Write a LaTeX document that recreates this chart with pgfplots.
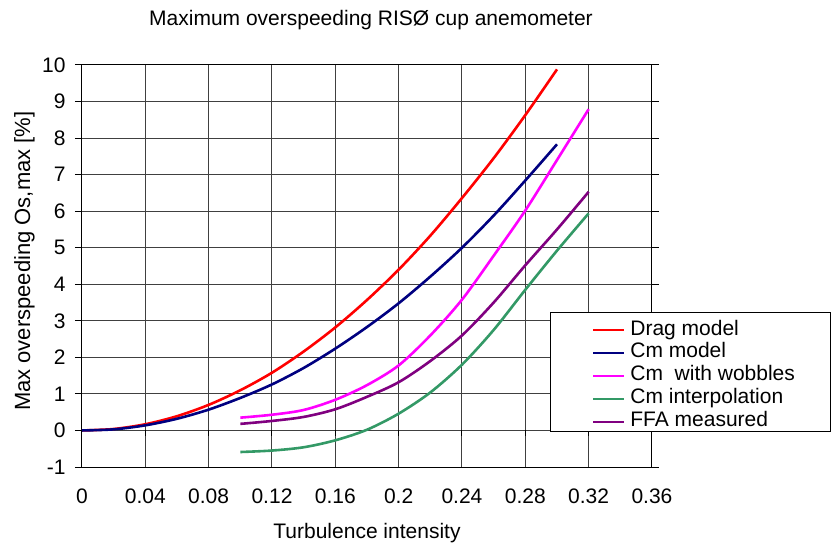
\documentclass[border=0pt]{standalone}
\usepackage{fontspec}
\setmainfont{Liberation Sans}
\usepackage{pgfplots}
\pgfplotsset{compat=1.18}

\definecolor{dragred}{RGB}{255,0,0}
\definecolor{cmnavy}{RGB}{0,0,128}
\definecolor{wobmag}{RGB}{255,0,255}
\definecolor{interpgreen}{RGB}{51,153,102}
\definecolor{ffapurple}{RGB}{128,0,128}

\begin{document}
\fontsize{10.5}{12.6}\selectfont
\begin{tikzpicture}
\begin{axis}[
  name=ax,
  scale only axis, width=285pt, height=201pt,
  xmin=0, xmax=0.36, ymin=-1, ymax=10,
  clip=false,
  xtick={0,0.04,0.08,0.12,0.16,0.2,0.24,0.28,0.32,0.36},
  xticklabels={0,0.04,0.08,0.12,0.16,0.2,0.24,0.28,0.32,0.36},
  ytick={-1,0,1,2,3,4,5,6,7,8,9,10},
  yticklabels={-1,0,1,2,3,4,5,6,7,8,9,10},
  grid=major,
  major grid style={black!75, line width=0.5pt},
  axis line style={black, line width=0.5pt},
  tick align=outside, major tick length=3.5pt,
  x tick style={draw=none},
  y tick style={black, line width=0.5pt},
  xticklabel style={yshift=-3.5pt},
  yticklabel style={xshift=-1pt},
  title={Maximum overspeeding RISØ cup anemometer},
  title style={at={(axis description cs:0.5,1)}, anchor=base, yshift=13.5pt, xshift=2pt},
  xlabel={Turbulence intensity},
  xlabel style={at={(axis description cs:0.5,0)}, anchor=north, yshift=-24.5pt},
  ylabel={Max overspeeding Os,max [\%]},
  ylabel style={at={(axis description cs:-0.0702,0.512)}, anchor=south,
    font=\fontsize{11}{13}\selectfont},
  every axis plot/.append style={line width=1.3pt, smooth},
  legend style={at={(axis description cs:0.8947,0.369)}, anchor=north west,
    draw=none, fill=none, inner sep=0pt, row sep=0pt, column sep=2.5pt,
    nodes={inner sep=0pt, text height=8pt, text depth=3.4pt, anchor=west}},
  legend cell align=left,
  legend image code/.code={\draw[#1, line width=1pt] (0pt,0pt) -- (15.5pt,0pt);},
]

% Drag model
\addplot[dragred] coordinates {
  (0,0) (0.02,0.04) (0.04,0.17) (0.06,0.39) (0.08,0.70) (0.10,1.10)
  (0.12,1.58) (0.14,2.16) (0.16,2.82) (0.18,3.57) (0.20,4.40) (0.22,5.33)
  (0.24,6.36) (0.26,7.45) (0.28,8.63) (0.30,9.88)};
\addlegendentry{Drag model}

% Cm model
\addplot[cmnavy] coordinates {
  (0,0) (0.02,0.03) (0.04,0.14) (0.06,0.32) (0.08,0.57) (0.10,0.89)
  (0.12,1.26) (0.14,1.71) (0.16,2.24) (0.18,2.83) (0.20,3.48) (0.22,4.21)
  (0.24,5.00) (0.26,5.88) (0.28,6.84) (0.30,7.83)};
\addlegendentry{Cm model}

% Cm with wobbles
\addplot[wobmag] coordinates {
  (0.10,0.35) (0.12,0.43) (0.14,0.56) (0.16,0.84) (0.18,1.24) (0.20,1.78)
  (0.22,2.60) (0.24,3.58) (0.26,4.78) (0.28,6.02) (0.30,7.40) (0.32,8.79)};
\addlegendentry{Cm\ \ with wobbles}

% Cm interpolation
\addplot[interpgreen] coordinates {
  (0.10,-0.59) (0.12,-0.55) (0.14,-0.46) (0.16,-0.27) (0.18,0.02)
  (0.20,0.46) (0.22,1.04) (0.24,1.80) (0.26,2.75) (0.28,3.85) (0.30,4.92)
  (0.32,5.94)};
\addlegendentry{Cm interpolation}

% FFA measured
\addplot[ffapurple] coordinates {
  (0.10,0.18) (0.12,0.26) (0.14,0.37) (0.16,0.58) (0.18,0.92) (0.20,1.32)
  (0.22,1.90) (0.24,2.60) (0.26,3.50) (0.28,4.52) (0.30,5.50) (0.32,6.53)};
\addlegendentry{FFA measured}

% tick marks on the horizontal axis line at y = 0
\pgfplotsinvokeforeach{0,0.04,0.08,0.12,0.16,0.2,0.24,0.28,0.32,0.36}{
  \draw[black, line width=0.5pt] (axis cs:#1,0) -- ++(0pt,-3pt);
}

% legend frame
\draw[black, line width=0.5pt, fill=white]
  (axis description cs:0.8211,0.0871) rectangle (axis description cs:1.3123,0.3831);
\end{axis}
\path (ax.south west) ++(-41pt,-39.5pt) rectangle ++(415.5pt,273pt);
\end{tikzpicture}
\end{document}
